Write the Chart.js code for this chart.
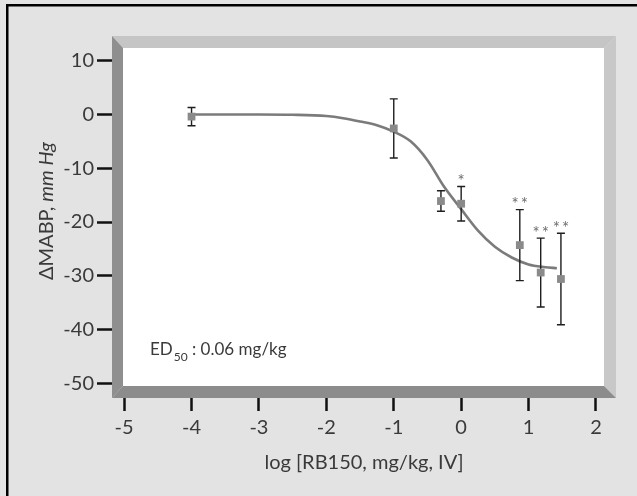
<!DOCTYPE html>
<html>
<head>
<meta charset="utf-8">
<script src="https://cdn.jsdelivr.net/npm/chart.js@4.4.1/dist/chart.umd.min.js"></script>
<style>
  html, body { margin: 0; padding: 0; background: #e3e3e3; }
  #wrap { width: 637px; height: 496px; position: relative; }
  canvas { display: block; }
</style>
</head>
<body>
<div id="wrap"><canvas id="c" width="637" height="496"></canvas></div>
<script>
// ---- data ----
const doseLog   = [-4, -1, -0.3, 0, 0.87, 1.18, 1.48];
const meanMABP  = [-0.4, -2.6, -16.1, -16.6, -24.3, -29.4, -30.6];
const semMABP   = [1.7, 5.5, 1.9, 3.2, 6.6, 6.4, 8.5];
const sigMarks  = ['', '', '', '*', '**', '**', '**'];

const fitX = [-4, -3.5, -3, -2.5, -2, -1.75, -1.5, -1.25, -1, -0.75, -0.5, -0.25, 0, 0.25, 0.5, 0.75, 1, 1.25, 1.42];
const fitY = [0, 0, 0, -0.05, -0.3, -0.7, -1.3, -2.0, -3.2, -5.0, -8.5, -13.5, -17.6, -21.6, -24.6, -26.6, -27.9, -28.4, -28.6];

const xTickValues = [-5, -4, -3, -2, -1, 0, 1, 2];
const yTickValues = [10, 0, -10, -20, -30, -40, -50];

const xTitle = 'log [RB150, mg/kg, IV]';
const yTitleMain = '\u0394MABP, ';
const yTitleItalic = 'mm Hg';
const edLabel = ['ED', '50', ' : 0.06 mg/kg'];

const FONT = 'Lato, "Open Sans", sans-serif';
const TEXT = '#3a3a3a';

const framePlugin = {
  id: 'frame',
  beforeDraw(chart) {
    const ctx = chart.ctx;
    const a = chart.chartArea;
    const W = chart.width, H = chart.height;
    ctx.save();
    ctx.fillStyle = '#e3e3e3';
    ctx.fillRect(0, 0, W, H);
    // outer black edge (left and top)
    ctx.fillStyle = '#000';
    ctx.fillRect(6, 4, 2.5, H - 4);
    ctx.fillRect(6, 4, W - 6, 2.5);
    const t = 12;
    // white plot field
    ctx.fillStyle = '#ffffff';
    ctx.fillRect(a.left + t - 1, a.top + t, a.right - a.left - 2 * t + 1, a.bottom - a.top - 2 * t);
    // top bar (light)
    ctx.fillStyle = '#c5c5c5';
    ctx.beginPath();
    ctx.moveTo(a.left, a.top); ctx.lineTo(a.right, a.top);
    ctx.lineTo(a.right - t, a.top + t); ctx.lineTo(a.left + t - 1, a.top + t);
    ctx.closePath(); ctx.fill();
    // right bar (light)
    ctx.fillStyle = '#c8c8c8';
    ctx.beginPath();
    ctx.moveTo(a.right, a.top); ctx.lineTo(a.right, a.bottom);
    ctx.lineTo(a.right - t, a.bottom - t); ctx.lineTo(a.right - t, a.top + t);
    ctx.closePath(); ctx.fill();
    // left bar (dark)
    ctx.fillStyle = '#8f8f8f';
    ctx.beginPath();
    ctx.moveTo(a.left, a.top); ctx.lineTo(a.left + t - 1, a.top + t);
    ctx.lineTo(a.left + t - 1, a.bottom - t); ctx.lineTo(a.left, a.bottom);
    ctx.closePath(); ctx.fill();
    // bottom bar (dark)
    ctx.fillStyle = '#8c8c8c';
    ctx.beginPath();
    ctx.moveTo(a.left, a.bottom); ctx.lineTo(a.right, a.bottom);
    ctx.lineTo(a.right - t, a.bottom - t); ctx.lineTo(a.left + t - 1, a.bottom - t);
    ctx.closePath(); ctx.fill();
    ctx.restore();
  },
  beforeDatasetDraw(chart, args) {
    if (args.index !== 1) return;
    const ctx = chart.ctx;
    const xs = chart.scales.x, ys = chart.scales.y;
    ctx.save();
    ctx.strokeStyle = '#1e1e1e';
    ctx.lineWidth = 1.4;
    ctx.fillStyle = '#6e6e6e';
    ctx.font = '17px ' + FONT;
    ctx.textAlign = 'center';
    ctx.textBaseline = 'middle';
    doseLog.forEach((d, i) => {
      const px = xs.getPixelForValue(d);
      const top = ys.getPixelForValue(meanMABP[i] + semMABP[i]);
      const bot = ys.getPixelForValue(meanMABP[i] - semMABP[i]);
      ctx.beginPath();
      ctx.moveTo(px, top); ctx.lineTo(px, bot);
      ctx.moveTo(px - 4, top); ctx.lineTo(px + 4, top);
      ctx.moveTo(px - 4, bot); ctx.lineTo(px + 4, bot);
      ctx.stroke();
      if (sigMarks[i]) {
        ctx.fillText(sigMarks[i].split('').join('\u2009'), px, top - 5);
      }
    });
    ctx.restore();
  },
  afterDraw(chart) {
    const ctx = chart.ctx;
    const a = chart.chartArea;
    ctx.save();
    ctx.fillStyle = TEXT;
    // y-axis title with italic unit
    ctx.translate(47, 211);
    ctx.rotate(-Math.PI / 2);
    ctx.textBaseline = 'middle';
    ctx.textAlign = 'left';
    const fr = '20px ' + FONT, fi = 'italic 20px ' + FONT;
    ctx.font = fr; const w1 = ctx.measureText(yTitleMain).width;
    ctx.font = fi; const w2 = ctx.measureText(yTitleItalic).width;
    const x0 = -(w1 + w2) / 2;
    ctx.font = fr; ctx.fillText(yTitleMain, x0, 0);
    ctx.font = fi; ctx.fillText(yTitleItalic, x0 + w1, 0);
    ctx.restore();
    // ED50 annotation
    ctx.save();
    ctx.fillStyle = TEXT;
    ctx.textBaseline = 'alphabetic';
    let ex = a.left + 38;
    const eb = a.bottom - 43;
    ctx.font = '17px ' + FONT;
    ctx.fillText(edLabel[0], ex, eb);
    ex += ctx.measureText(edLabel[0]).width + 1;
    ctx.font = '12px ' + FONT;
    ctx.fillText(edLabel[1], ex, eb + 6);
    ex += ctx.measureText(edLabel[1]).width;
    ctx.font = '17px ' + FONT;
    ctx.fillText(edLabel[2], ex, eb);
    ctx.restore();
  }
};

new Chart(document.getElementById('c'), {
  type: 'scatter',
  data: {
    datasets: [
      {
        type: 'line',
        data: fitX.map((x, i) => ({ x: x, y: fitY[i] })),
        borderColor: '#7b7b7b',
        borderWidth: 2.6,
        pointRadius: 0,
        fill: false,
        cubicInterpolationMode: 'monotone',
        order: 2
      },
      {
        type: 'scatter',
        data: doseLog.map((x, i) => ({ x: x, y: meanMABP[i] })),
        pointStyle: 'rect',
        pointRadius: 5.5,
        backgroundColor: '#8a8a8a',
        borderColor: '#8a8a8a',
        borderWidth: 0,
        order: 1
      }
    ]
  },
  options: {
    responsive: false,
    animation: false,
    devicePixelRatio: 1,
    layout: { padding: { left: 0, top: 36, right: 21, bottom: 0 } },
    plugins: { legend: { display: false }, tooltip: { enabled: false } },
    scales: {
      x: {
        type: 'linear',
        min: -5.18,
        max: 2.297,
        afterBuildTicks: s => { s.ticks = xTickValues.map(v => ({ value: v })); },
        afterFit: s => { s.height = 98; },
        grid: { display: true, drawOnChartArea: false, drawTicks: true, tickLength: 13, tickWidth: 2.5, tickColor: '#111' },
        border: { display: false },
        ticks: { color: TEXT, font: { family: FONT, size: 20 }, padding: 5, maxRotation: 0, callback: v => String(v) },
        title: { display: true, text: xTitle, color: TEXT, font: { family: FONT, size: 20 }, padding: { top: 0, bottom: 21 } }
      },
      y: {
        type: 'linear',
        min: -52.73,
        max: 14.59,
        afterBuildTicks: s => { s.ticks = yTickValues.map(v => ({ value: v })); },
        afterFit: s => { s.width = 112; },
        grid: { display: true, drawOnChartArea: false, drawTicks: true, tickLength: 15, tickWidth: 2.5, tickColor: '#111' },
        border: { display: false },
        ticks: { color: TEXT, font: { family: FONT, size: 20 }, padding: 3, callback: v => String(v) }
      }
    }
  },
  plugins: [framePlugin]
});
</script>
</body>
</html>
